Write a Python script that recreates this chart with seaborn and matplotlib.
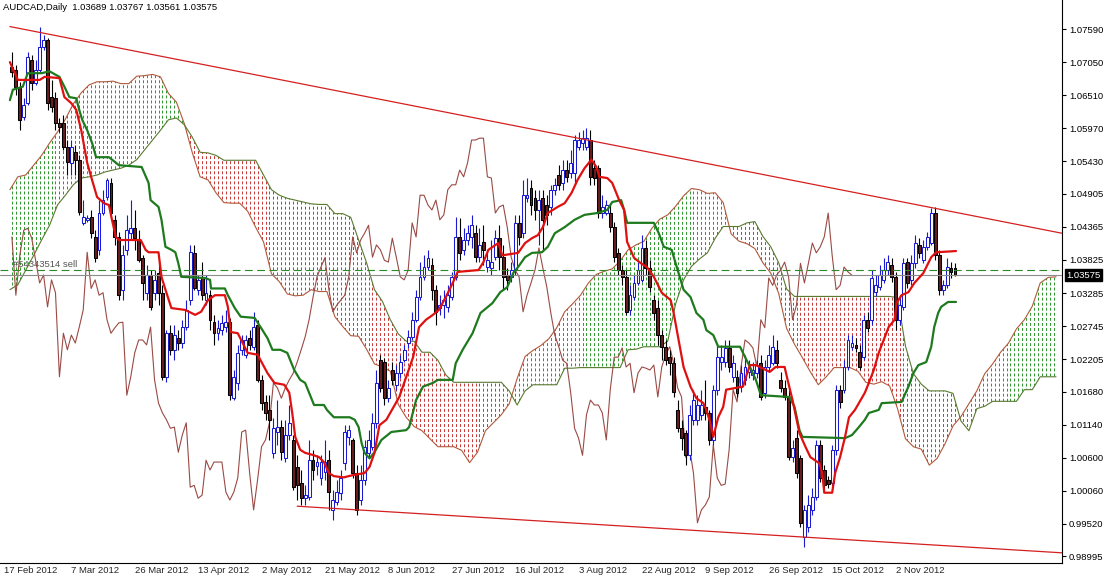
import numpy as np
import pandas as pd
import matplotlib
matplotlib.use("Agg")
import matplotlib.pyplot as plt
import matplotlib.transforms as mtransforms
from matplotlib.path import Path
from matplotlib.patches import PathPatch
import seaborn as sns

# AUDCAD daily bars (one per trading day incl. sunday bars)
opens = [
    1.0697, 1.0692, 1.0665, 1.0616, 1.0638, 1.0709, 1.0671, 1.0692, 1.0730, 1.0741,
    1.0648, 1.0646, 1.0606, 1.0606, 1.0567, 1.0541, 1.0558, 1.0546, 1.0443, 1.0448,
    1.0453, 1.0420, 1.0399, 1.0459, 1.0485, 1.0508, 1.0448, 1.0420, 1.0334, 1.0399,
    1.0426, 1.0434, 1.0415, 1.0386, 1.0329, 1.0358, 1.0329, 1.0361, 1.0329, 1.0192,
    1.0263, 1.0236, 1.0255, 1.0247, 1.0273, 1.0317, 1.0394, 1.0334, 1.0355, 1.0317,
    1.0325, 1.0281, 1.0263, 1.0268, 1.0273, 1.0281, 1.0157, 1.0182, 1.0236, 1.0228,
    1.0255, 1.0241, 1.0277, 1.0187, 1.0151, 1.0138, 1.0068, 1.0102, 1.0110, 1.0059,
    1.0097, 1.0089, 1.0045, 1.0019, 0.9994, 0.9996, 1.0056, 1.0047, 1.0027, 1.0037,
    1.0056, 0.9975, 0.9988, 1.0003, 1.0051, 1.0094, 1.0089, 1.0035, 0.9991, 1.0024,
    1.0068, 1.0078, 1.0117, 1.0219, 1.0216, 1.0157, 1.0203, 1.0179, 1.0198, 1.0219,
    1.0247, 1.0257, 1.0285, 1.0322, 1.0355, 1.0371, 1.0374, 1.0334, 1.0304, 1.0309,
    1.0306, 1.0322, 1.0355, 1.0420, 1.0399, 1.0415, 1.0420, 1.0426, 1.0387, 1.0412,
    1.0371, 1.0369, 1.0387, 1.0418, 1.0387, 1.0358, 1.0355, 1.0366, 1.0443, 1.0426,
    1.0483, 1.0500, 1.0483, 1.0464, 1.0483, 1.0472, 1.0469, 1.0497, 1.0521, 1.0508,
    1.0529, 1.0524, 1.0524, 1.0567, 1.0573, 1.0567, 1.0578, 1.0532, 1.0532, 1.0459,
    1.0459, 1.0459, 1.0436, 1.0394, 1.0366, 1.0355, 1.0301, 1.0322, 1.0345, 1.0350,
    1.0402, 1.0369, 1.0317, 1.0304, 1.0260, 1.0241, 1.0224, 1.0214, 1.0138, 1.0108,
    1.0100, 1.0064, 1.0122, 1.0122, 1.0130, 1.0143, 1.0133, 1.0089, 1.0171, 1.0216,
    1.0216, 1.0239, 1.0192, 1.0192, 1.0176, 1.0187, 1.0200, 1.0195, 1.0198, 1.0214,
    1.0166, 1.0208, 1.0214, 1.0236, 1.0187, 1.0174, 1.0159, 1.0061, 1.0092, 1.0059,
    0.9931, 0.9947, 0.9975, 0.9996, 1.0081, 1.0040, 1.0024, 1.0019, 1.0073, 1.0171,
    1.0171, 1.0208, 1.0241, 1.0244, 1.0233, 1.0224, 1.0285, 1.0285, 1.0330, 1.0338,
    1.0350, 1.0366, 1.0374, 1.0355, 1.0285, 1.0306, 1.0379, 1.0350, 1.0377, 1.0407,
    1.0382, 1.0404, 1.0410, 1.0459, 1.0390, 1.0334, 1.0341, 1.0369, 1.03689,
]
highs = [
    1.0722, 1.0700, 1.0673, 1.0646, 1.0722, 1.0717, 1.0709, 1.0762, 1.0749, 1.0744,
    1.0676, 1.0656, 1.0614, 1.0619, 1.0578, 1.0578, 1.0570, 1.0553, 1.0480, 1.0456,
    1.0464, 1.0431, 1.0480, 1.0497, 1.0516, 1.0516, 1.0456, 1.0428, 1.0407, 1.0456,
    1.0480, 1.0464, 1.0431, 1.0390, 1.0374, 1.0366, 1.0366, 1.0382, 1.0341, 1.0268,
    1.0277, 1.0277, 1.0268, 1.0285, 1.0317, 1.0407, 1.0407, 1.0358, 1.0379, 1.0358,
    1.0334, 1.0293, 1.0285, 1.0293, 1.0301, 1.0288, 1.0203, 1.0244, 1.0260, 1.0260,
    1.0268, 1.0298, 1.0285, 1.0195, 1.0162, 1.0162, 1.0125, 1.0154, 1.0122, 1.0122,
    1.0146, 1.0097, 1.0064, 1.0040, 1.0015, 1.0089, 1.0073, 1.0064, 1.0064, 1.0089,
    1.0073, 1.0008, 1.0024, 1.0040, 1.0113, 1.0113, 1.0092, 1.0048, 1.0048, 1.0089,
    1.0105, 1.0133, 1.0203, 1.0228, 1.0223, 1.0187, 1.0216, 1.0211, 1.0228, 1.0244,
    1.0268, 1.0298, 1.0334, 1.0379, 1.0390, 1.0399, 1.0386, 1.0341, 1.0325, 1.0334,
    1.0341, 1.0363, 1.0453, 1.0451, 1.0434, 1.0439, 1.0456, 1.0439, 1.0434, 1.0439,
    1.0399, 1.0415, 1.0431, 1.0439, 1.0407, 1.0369, 1.0379, 1.0456, 1.0456, 1.0513,
    1.0516, 1.0513, 1.0497, 1.0497, 1.0497, 1.0488, 1.0505, 1.0516, 1.0537, 1.0546,
    1.0546, 1.0562, 1.0586, 1.0591, 1.0594, 1.0598, 1.0594, 1.0546, 1.0537, 1.0488,
    1.0480, 1.0472, 1.0444, 1.0402, 1.0374, 1.0366, 1.0341, 1.0358, 1.0379, 1.0423,
    1.0415, 1.0382, 1.0325, 1.0317, 1.0268, 1.0252, 1.0236, 1.0224, 1.0154, 1.0122,
    1.0105, 1.0146, 1.0171, 1.0162, 1.0171, 1.0187, 1.0138, 1.0179, 1.0244, 1.0244,
    1.0252, 1.0252, 1.0228, 1.0203, 1.0211, 1.0228, 1.0219, 1.0216, 1.0219, 1.0228,
    1.0219, 1.0244, 1.0260, 1.0252, 1.0200, 1.0187, 1.0171, 1.0089, 1.0105, 1.0064,
    0.9983, 0.9999, 1.0011, 1.0089, 1.0089, 1.0048, 1.0030, 1.0081, 1.0179, 1.0179,
    1.0219, 1.0260, 1.0260, 1.0255, 1.0244, 1.0293, 1.0298, 1.0366, 1.0358, 1.0374,
    1.0386, 1.0390, 1.0386, 1.0363, 1.0325, 1.0386, 1.0386, 1.0390, 1.0423, 1.0418,
    1.0415, 1.0428, 1.0467, 1.0469, 1.0399, 1.0350, 1.0386, 1.0379, 1.03767,
]
lows = [
    1.0681, 1.0651, 1.0594, 1.0611, 1.0635, 1.0660, 1.0668, 1.0689, 1.0725, 1.0627,
    1.0624, 1.0594, 1.0591, 1.0562, 1.0521, 1.0521, 1.0521, 1.0456, 1.0439, 1.0444,
    1.0418, 1.0379, 1.0390, 1.0456, 1.0480, 1.0456, 1.0407, 1.0317, 1.0317, 1.0390,
    1.0415, 1.0399, 1.0379, 1.0317, 1.0317, 1.0301, 1.0317, 1.0309, 1.0187, 1.0184,
    1.0228, 1.0219, 1.0236, 1.0239, 1.0268, 1.0309, 1.0334, 1.0325, 1.0317, 1.0309,
    1.0268, 1.0244, 1.0252, 1.0260, 1.0265, 1.0154, 1.0154, 1.0171, 1.0228, 1.0223,
    1.0236, 1.0236, 1.0184, 1.0138, 1.0122, 1.0089, 1.0059, 1.0081, 1.0056, 1.0053,
    1.0089, 1.0008, 0.9991, 0.9983, 0.9983, 0.9991, 1.0024, 1.0032, 1.0015, 1.0024,
    0.9975, 0.9959, 0.9983, 0.9991, 1.0040, 1.0081, 1.0027, 0.9967, 0.9983, 1.0015,
    1.0059, 1.0073, 1.0108, 1.0167, 1.0146, 1.0151, 1.0179, 1.0171, 1.0190, 1.0216,
    1.0239, 1.0252, 1.0281, 1.0317, 1.0350, 1.0366, 1.0317, 1.0277, 1.0293, 1.0288,
    1.0298, 1.0317, 1.0350, 1.0382, 1.0390, 1.0407, 1.0402, 1.0379, 1.0379, 1.0374,
    1.0363, 1.0358, 1.0382, 1.0366, 1.0334, 1.0334, 1.0346, 1.0358, 1.0407, 1.0418,
    1.0477, 1.0456, 1.0448, 1.0407, 1.0399, 1.0439, 1.0456, 1.0488, 1.0497, 1.0497,
    1.0510, 1.0516, 1.0505, 1.0562, 1.0562, 1.0562, 1.0505, 1.0505, 1.0451, 1.0451,
    1.0456, 1.0428, 1.0379, 1.0358, 1.0341, 1.0293, 1.0293, 1.0317, 1.0341, 1.0346,
    1.0358, 1.0330, 1.0285, 1.0244, 1.0219, 1.0211, 1.0195, 1.0159, 1.0102, 1.0073,
    1.0048, 1.0056, 1.0113, 1.0113, 1.0122, 1.0122, 1.0081, 1.0081, 1.0162, 1.0203,
    1.0208, 1.0200, 1.0184, 1.0159, 1.0167, 1.0179, 1.0190, 1.0187, 1.0190, 1.0154,
    1.0157, 1.0200, 1.0211, 1.0206, 1.0167, 1.0154, 1.0056, 1.0053, 1.0027, 0.9947,
    0.9915, 0.9939, 0.9967, 0.9991, 1.0020, 1.0008, 1.0011, 1.0014, 1.0064, 1.0141,
    1.0166, 1.0203, 1.0236, 1.0233, 1.0203, 1.0219, 1.0265, 1.0277, 1.0324, 1.0334,
    1.0345, 1.0358, 1.0346, 1.0268, 1.0277, 1.0301, 1.0336, 1.0341, 1.0369, 1.0386,
    1.0377, 1.0399, 1.0407, 1.0382, 1.0325, 1.0325, 1.0336, 1.0353, 1.03561,
]
closes = [
    1.0689, 1.0665, 1.0611, 1.0635, 1.0713, 1.0671, 1.0692, 1.0730, 1.0741, 1.0638,
    1.0632, 1.0606, 1.0599, 1.0567, 1.0542, 1.0567, 1.0546, 1.0461, 1.0453, 1.0451,
    1.0426, 1.0386, 1.0459, 1.0480, 1.0513, 1.0459, 1.0420, 1.0325, 1.0390, 1.0431,
    1.0434, 1.0418, 1.0382, 1.0345, 1.0358, 1.0306, 1.0350, 1.0329, 1.0192, 1.0263,
    1.0236, 1.0260, 1.0247, 1.0273, 1.0301, 1.0395, 1.0336, 1.0350, 1.0325, 1.0329,
    1.0285, 1.0263, 1.0272, 1.0280, 1.0281, 1.0162, 1.0192, 1.0231, 1.0252, 1.0252,
    1.0244, 1.0273, 1.0187, 1.0149, 1.0133, 1.0122, 1.0108, 1.0110, 1.0069, 1.0097,
    1.0117, 1.0012, 1.0015, 0.9994, 0.9999, 1.0056, 1.0040, 1.0053, 1.0053, 1.0053,
    1.0004, 0.9991, 1.0004, 1.0027, 1.0102, 1.0105, 1.0035, 0.9975, 1.0024, 1.0078,
    1.0089, 1.0117, 1.0182, 1.0174, 1.0157, 1.0174, 1.0187, 1.0198, 1.0216, 1.0236,
    1.0257, 1.0285, 1.0322, 1.0355, 1.0371, 1.0386, 1.0334, 1.0298, 1.0309, 1.0317,
    1.0325, 1.0355, 1.0420, 1.0394, 1.0415, 1.0426, 1.0439, 1.0387, 1.0407, 1.0399,
    1.0382, 1.0379, 1.0418, 1.0387, 1.0355, 1.0350, 1.0366, 1.0443, 1.0420, 1.0488,
    1.0488, 1.0472, 1.0464, 1.0480, 1.0448, 1.0456, 1.0497, 1.0505, 1.0505, 1.0529,
    1.0518, 1.0541, 1.0578, 1.0578, 1.0581, 1.0581, 1.0518, 1.0516, 1.0459, 1.0469,
    1.0472, 1.0436, 1.0387, 1.0366, 1.0355, 1.0298, 1.0325, 1.0345, 1.0366, 1.0402,
    1.0369, 1.0338, 1.0296, 1.0260, 1.0241, 1.0219, 1.0214, 1.0167, 1.0108, 1.0092,
    1.0064, 1.0130, 1.0154, 1.0146, 1.0146, 1.0133, 1.0089, 1.0171, 1.0224, 1.0224,
    1.0239, 1.0208, 1.0214, 1.0166, 1.0198, 1.0208, 1.0206, 1.0203, 1.0211, 1.0159,
    1.0208, 1.0228, 1.0241, 1.0214, 1.0174, 1.0159, 1.0061, 1.0076, 1.0035, 0.9954,
    0.9975, 0.9983, 0.9996, 1.0081, 1.0027, 1.0015, 1.0017, 1.0073, 1.0171, 1.0151,
    1.0208, 1.0252, 1.0247, 1.0239, 1.0208, 1.0285, 1.0272, 1.0353, 1.0341, 1.0358,
    1.0366, 1.0379, 1.0355, 1.0285, 1.0309, 1.0377, 1.0345, 1.0377, 1.0410, 1.0394,
    1.0404, 1.0420, 1.0459, 1.0390, 1.0334, 1.0341, 1.0371, 1.0363, 1.03575,
]

# Tenkan-sen (red) and Kijun-sen (green): bar index / price of the line vertices
tenkan_bar = [
    -0.5, 1.5, 7, 8.25, 12, 13.25, 15, 16.25, 17.5, 19, 20, 21.5, 23.25, 24.5, 25.25,
    26.25, 27, 32.5, 33.75, 34.5, 37, 37.75, 38.75, 40.25, 43.75, 46.25, 47.75, 49.5,
    51.25, 53.75, 54.5, 55.25, 57, 58.25, 59.5, 62, 64.5, 66.25, 68.75, 70, 70.75, 71.5,
    72.75, 74, 76.25, 77.5, 78.75, 80, 81.25, 83.75, 86.25, 89, 90.25, 91.5, 92.75, 94.5,
    97.75, 101.25, 102.75, 104.5, 106.25, 107.75, 109.5, 111.25, 112.5, 117.75, 119,
    120.25, 122.75, 123.75, 127.75, 129.5, 131.25, 132.75, 134, 135.25, 137.75, 139.5,
    141.25, 142.75, 144.5, 146.25, 147.5, 148.25, 150.25, 151.5, 153.25, 154.5, 155.25,
    157, 158.75, 160.25, 162, 164, 166.25, 167, 168.25, 169.5, 171.25, 172.75, 174.5,
    175.25, 176.25, 177, 178.25, 179.5, 180.25, 184.5, 185.25, 186.25, 187.75, 191.25,
    192.75, 195, 195.75, 197, 198.75, 200.25, 201.5, 203.75, 204.5, 205, 207, 207.75,
    209, 210.25, 211.25, 212.75, 215.25, 216.25, 217.5, 218.75, 221.25, 222.75, 223.25,
    224.5, 226.25, 227.75, 230, 232, 233.25, 238.25,
]
tenkan = [
    1.0705, 1.0676, 1.0676, 1.0681, 1.0679, 1.0648, 1.0638, 1.0627, 1.0594, 1.0541,
    1.0518, 1.0485, 1.0475, 1.0472, 1.0448, 1.0420, 1.0415, 1.0415, 1.0399, 1.0395,
    1.0395, 1.0355, 1.0334, 1.0304, 1.0301, 1.0293, 1.0298, 1.0317, 1.0325, 1.0325,
    1.0306, 1.0265, 1.0263, 1.0247, 1.0231, 1.0228, 1.0198, 1.0182, 1.0179, 1.0166,
    1.0133, 1.0094, 1.0073, 1.0068, 1.0064, 1.0061, 1.0053, 1.0035, 1.0030, 1.0028,
    1.0032, 1.0035, 1.0045, 1.0068, 1.0113, 1.0122, 1.0159, 1.0224, 1.0273, 1.0285,
    1.0293, 1.0301, 1.0322, 1.0345, 1.0363, 1.0366, 1.0379, 1.0399, 1.0410, 1.0390,
    1.0394, 1.0410, 1.0418, 1.0423, 1.0436, 1.0459, 1.0469, 1.0475, 1.0492, 1.0513,
    1.0532, 1.0546, 1.0534, 1.0518, 1.0516, 1.0508, 1.0480, 1.0464, 1.0412, 1.0386,
    1.0377, 1.0371, 1.0355, 1.0329, 1.0317, 1.0296, 1.0252, 1.0208, 1.0176, 1.0157,
    1.0149, 1.0138, 1.0117, 1.0094, 1.0126, 1.0143, 1.0171, 1.0176, 1.0192, 1.0211,
    1.0211, 1.0200, 1.0208, 1.0208, 1.0187, 1.0154, 1.0100, 1.0078, 1.0061, 1.0051,
    1.0035, 1.0003, 1.0003, 1.0035, 1.0061, 1.0094, 1.0126, 1.0138, 1.0166, 1.0182,
    1.0203, 1.0231, 1.0273, 1.0285, 1.0312, 1.0325, 1.0330, 1.0345, 1.0361, 1.0387,
    1.0395, 1.0397,
]
kijun_bar = [
    -0.5, 0.25, 2.75, 4, 7.5, 9.5, 12, 13.25, 14.5, 16.25, 17, 17.75, 19, 20.25, 21.25,
    24.5, 26.25, 27, 32.75, 34.5, 35, 37, 37.75, 38.75, 40.25, 41.25, 42, 42.75, 48.75,
    50, 50.25, 53.75, 54.5, 56.25, 57.75, 61.25, 62.75, 64.5, 65.75, 67.75, 69.5, 71.25,
    72.75, 74, 75, 76.25, 78.75, 79.5, 81.25, 85.25, 86.5, 87.5, 88.25, 89, 90.25, 91.5,
    93.25, 95.75, 99.5, 100.25, 102, 103.75, 106.25, 107.5, 111.25, 112, 113.75, 116.25,
    118.25, 121.25, 123.25, 125, 126.5, 127.75, 129.5, 131.25, 133.75, 135.25, 137,
    139.5, 142, 144.5, 147.75, 150.25, 151.5, 153.75, 154.5, 155.25, 162, 163.25, 164.5,
    166.5, 167.5, 169.5, 171.25, 172.75, 174.5, 175.25, 177, 178.25, 183.75, 184.5,
    186.25, 187.75, 189, 196.25, 197.5, 198.75, 199.5, 210.25, 212, 213.75, 215.25,
    216.25, 218.75, 219.5, 224.5, 226.25, 227.5, 228.75, 230.75, 232, 232.75, 233.75,
    234.5, 236.25, 238.25,
]
kijun = [
    1.0643, 1.0660, 1.0665, 1.0687, 1.0687, 1.0690, 1.0681, 1.0665, 1.0648, 1.0646,
    1.0627, 1.0611, 1.0594, 1.0573, 1.0550, 1.0550, 1.0541, 1.0537, 1.0534, 1.0508,
    1.0480, 1.0469, 1.0448, 1.0404, 1.0399, 1.0395, 1.0377, 1.0355, 1.0353, 1.0350,
    1.0336, 1.0336, 1.0325, 1.0304, 1.0290, 1.0288, 1.0273, 1.0255, 1.0236, 1.0236,
    1.0231, 1.0203, 1.0187, 1.0182, 1.0166, 1.0146, 1.0146, 1.0138, 1.0126, 1.0126,
    1.0122, 1.0110, 1.0084, 1.0068, 1.0059, 1.0069, 1.0089, 1.0102, 1.0105, 1.0110,
    1.0154, 1.0176, 1.0182, 1.0187, 1.0187, 1.0214, 1.0236, 1.0263, 1.0296, 1.0312,
    1.0330, 1.0338, 1.0361, 1.0371, 1.0387, 1.0394, 1.0395, 1.0404, 1.0426, 1.0436,
    1.0448, 1.0456, 1.0459, 1.0464, 1.0477, 1.0480, 1.0464, 1.0443, 1.0443, 1.0426,
    1.0404, 1.0399, 1.0377, 1.0334, 1.0322, 1.0296, 1.0285, 1.0268, 1.0260, 1.0241,
    1.0241, 1.0231, 1.0208, 1.0187, 1.0162, 1.0159, 1.0143, 1.0105, 1.0094, 1.0092,
    1.0097, 1.0110, 1.0122, 1.0133, 1.0138, 1.0149, 1.0151, 1.0176, 1.0198, 1.0211,
    1.0216, 1.0241, 1.0273, 1.0296, 1.0306, 1.0314, 1.0314,
]

# Senkou span A / B, sampled every second bar starting half a bar left of the first candle
span_a = [
    1.0497, 1.0518, 1.0521, 1.0537, 1.0553, 1.0573, 1.0591, 1.0612, 1.0637, 1.0655,
    1.0668, 1.0673, 1.0673, 1.0674, 1.0670, 1.0670, 1.0682, 1.0683, 1.0685, 1.0681,
    1.0654, 1.0640, 1.0605, 1.0558, 1.0518, 1.0513, 1.0492, 1.0476, 1.0475, 1.0475,
    1.0462, 1.0436, 1.0412, 1.0360, 1.0347, 1.0327, 1.0324, 1.0325, 1.0334, 1.0331,
    1.0331, 1.0290, 1.0274, 1.0259, 1.0258, 1.0237, 1.0213, 1.0208, 1.0201, 1.0147,
    1.0126, 1.0111, 1.0104, 1.0091, 1.0078, 1.0078, 1.0078, 1.0072, 1.0052, 1.0069,
    1.0104, 1.0117, 1.0130, 1.0148, 1.0189, 1.0225, 1.0235, 1.0243, 1.0254, 1.0272,
    1.0298, 1.0311, 1.0325, 1.0345, 1.0359, 1.0364, 1.0368, 1.0381, 1.0399, 1.0407,
    1.0413, 1.0434, 1.0449, 1.0456, 1.0470, 1.0487, 1.0499, 1.0497, 1.0491, 1.0492,
    1.0476, 1.0425, 1.0413, 1.0409, 1.0401, 1.0378, 1.0361, 1.0328, 1.0271, 1.0245,
    1.0223, 1.0200, 1.0179, 1.0192, 1.0207, 1.0207, 1.0207, 1.0201, 1.0183, 1.0180,
    1.0184, 1.0177, 1.0140, 1.0091, 1.0078, 1.0074, 1.0048, 1.0059, 1.0083, 1.0112,
    1.0127, 1.0148, 1.0169, 1.0197, 1.0213, 1.0232, 1.0247, 1.0270, 1.0285, 1.0307,
    1.0345, 1.0354, 1.0355,
]
span_b = [
    1.0334, 1.0342, 1.0366, 1.0390, 1.0415, 1.0439, 1.0472, 1.0488, 1.0505, 1.0516,
    1.0518, 1.0521, 1.0526, 1.0529, 1.0532, 1.0537, 1.0546, 1.0562, 1.0578, 1.0594,
    1.0611, 1.0614, 1.0603, 1.0583, 1.0558, 1.0557, 1.0553, 1.0545, 1.0545, 1.0545,
    1.0545, 1.0545, 1.0521, 1.0497, 1.0488, 1.0483, 1.0480, 1.0477, 1.0474, 1.0473,
    1.0473, 1.0458, 1.0458, 1.0452, 1.0415, 1.0378, 1.0334, 1.0315, 1.0285, 1.0262,
    1.0250, 1.0250, 1.0232, 1.0232, 1.0219, 1.0195, 1.0183, 1.0183, 1.0183, 1.0183,
    1.0183, 1.0183, 1.0183, 1.0169, 1.0146, 1.0169, 1.0179, 1.0179, 1.0179, 1.0179,
    1.0206, 1.0206, 1.0207, 1.0207, 1.0207, 1.0207, 1.0207, 1.0207, 1.0236, 1.0237,
    1.0241, 1.0241, 1.0241, 1.0250, 1.0311, 1.0350, 1.0372, 1.0384, 1.0394, 1.0418,
    1.0437, 1.0437, 1.0437, 1.0443, 1.0445, 1.0421, 1.0404, 1.0378, 1.0335, 1.0323,
    1.0323, 1.0323, 1.0323, 1.0323, 1.0323, 1.0323, 1.0323, 1.0323, 1.0323, 1.0323,
    1.0323, 1.0323, 1.0321, 1.0242, 1.0197, 1.0180, 1.0169, 1.0169, 1.0169, 1.0165,
    1.0120, 1.0104, 1.0140, 1.0144, 1.0152, 1.0152, 1.0152, 1.0152, 1.0171, 1.0171,
    1.0192, 1.0192, 1.0192,
]
chikou_shift = 26

# trend lines drawn on the chart (bar index, price)
upper_trend_bar = [-0.5, 265]
upper_trend = [1.0763, 1.0426]
lower_trend_bar = [72, 265]
lower_trend = [0.9981, 0.9905]

bid_price = 1.03575
order_price = 1.0366
order_label = "#54343514 sell"
title = "AUDCAD,Daily  1.03689 1.03767 1.03561 1.03575"

date_labels = ["17 Feb 2012", "7 Mar 2012", "26 Mar 2012", "13 Apr 2012", "2 May 2012",
               "21 May 2012", "8 Jun 2012", "27 Jun 2012", "16 Jul 2012", "3 Aug 2012",
               "22 Aug 2012", "9 Sep 2012", "26 Sep 2012", "15 Oct 2012", "2 Nov 2012"]
date_bars = [-3, 14, 30, 46, 62, 78, 94, 110, 126, 142, 158, 174, 190, 206, 222]
price_ticks = [1.07590, 1.07050, 1.06510, 1.05970, 1.05430, 1.04905, 1.04365, 1.03825,
               1.03285, 1.02745, 1.02205, 1.01680, 1.01140, 1.00600, 1.00060, 0.99520, 0.98995]

# ---------------------------------------------------------------------------
sns.set_style("white")
plt.rcParams["font.family"] = ["Liberation Sans", "DejaVu Sans"]
fs = 6.8

candles = pd.DataFrame({"open": opens, "high": highs, "low": lows, "close": closes})
candles["bar"] = np.arange(len(candles))
cloud = pd.DataFrame({"a": span_a, "b": span_b})
cloud["bar"] = np.arange(len(cloud)) * 2 - 0.5
tk = pd.DataFrame({"bar": tenkan_bar, "price": tenkan})
kj = pd.DataFrame({"bar": kijun_bar, "price": kijun})

fig = plt.figure(figsize=(11.05, 5.79), dpi=100)
ax = fig.add_axes([0, 16 / 579, 1062 / 1105, 563 / 579])
y_lo, y_hi = 0.98884, 1.08063
ax.set_xlim(-0.5, 265)
ax.set_ylim(y_lo, y_hi)

# kumo: dotted vertical strokes on every bar, clipped to the cloud areas
up = ax.fill_between(cloud.bar, cloud.a, cloud.b, where=cloud.a >= cloud.b,
                     interpolate=True, facecolor="none", edgecolor="none")
dn = ax.fill_between(cloud.bar, cloud.a, cloud.b, where=cloud.a < cloud.b,
                     interpolate=True, facecolor="none", edgecolor="none")
dot_bars = np.arange(0, 265)
for poly, colour in ((up, "#2a962a"), (dn, "#c83636")):
    paths = poly.get_paths()
    if len(paths) == 0:
        continue
    clip = PathPatch(Path.make_compound_path(*paths), transform=ax.transData,
                     facecolor="none", edgecolor="none")
    ax.add_patch(clip)
    dots = ax.vlines(dot_bars, y_lo, y_hi, colors=colour, linewidth=0.7,
                     linestyles=(0, (3, 2.2)), zorder=1)
    dots.set_clip_path(clip)

sns.lineplot(data=cloud, x="bar", y="a", color="#b05a3c", lw=0.8, ax=ax,
             estimator=None, sort=False, legend=False, zorder=2)
sns.lineplot(data=cloud, x="bar", y="b", color="#5a7a30", lw=0.8, ax=ax,
             estimator=None, sort=False, legend=False, zorder=2)

# chikou span = close shifted back
chk = candles.iloc[chikou_shift:]
sns.lineplot(x=chk.bar - chikou_shift, y=chk.close, color="#9a4a45", lw=0.8, ax=ax,
             estimator=None, sort=False, legend=False, zorder=2)

# candles
bull = candles[candles.close >= candles.open]
bear = candles[candles.close < candles.open]
ax.vlines(bull.bar, bull.low, bull.high, color="#1a1ad0", lw=0.8, zorder=3)
ax.vlines(bear.bar, bear.low, bear.high, color="black", lw=0.8, zorder=3)
ax.bar(bull.bar, bull.close - bull.open, bottom=bull.open, width=0.72,
       facecolor="white", edgecolor="#1a1ad0", lw=0.75, zorder=4)
ax.bar(bear.bar, bear.open - bear.close, bottom=bear.close, width=0.72,
       facecolor="#6a1e1e", edgecolor="black", lw=0.75, zorder=4)

# tenkan / kijun
sns.lineplot(data=kj, x="bar", y="price", color="#1e7a1e", lw=1.6, ax=ax,
             estimator=None, sort=False, legend=False, zorder=6)
sns.lineplot(data=tk, x="bar", y="price", color="#e01010", lw=1.6, ax=ax,
             estimator=None, sort=False, legend=False, zorder=7)

# trend lines, bid and order lines
ax.plot(upper_trend_bar, upper_trend, color="#d42020", lw=0.9, zorder=5)
ax.plot(lower_trend_bar, lower_trend, color="#d42020", lw=0.9, zorder=5)
ax.axhline(bid_price, color="#8c8c8c", lw=0.8, zorder=5)
ax.axhline(order_price, color="#2a8a2a", lw=0.8, dashes=(7, 4), zorder=5)
ax.text(0.3, order_price + 0.0002, order_label, fontsize=fs, color="#555555",
        ha="left", va="bottom", zorder=8)

# axes styling
for s in ("left", "top"):
    ax.spines[s].set_visible(False)
for s in ("right", "bottom"):
    ax.spines[s].set_color("black")
    ax.spines[s].set_linewidth(0.8)
ax.set_xlabel("")
ax.set_ylabel("")
ax.yaxis.tick_right()
ax.set_yticks(price_ticks)
ax.set_yticklabels([f"{v:.5f}" for v in price_ticks])
ax.tick_params(axis="y", direction="out", length=3, width=0.8, labelsize=fs, pad=2,
               colors="black")
ax.set_xticks(date_bars)
ax.set_xticklabels([])
ax.tick_params(axis="x", direction="out", length=3, width=0.8)

xt = mtransforms.blended_transform_factory(ax.transData, ax.transAxes)
for b, lab in zip(date_bars, date_labels):
    ax.text(b + 1.0, -0.006, lab, transform=xt, ha="left", va="top", fontsize=fs,
            clip_on=False)

yt = mtransforms.blended_transform_factory(ax.transAxes, ax.transData)
ax.text(1.004, bid_price, "1.03575", transform=yt, ha="left", va="center", fontsize=fs,
        color="white", clip_on=False, zorder=10,
        bbox=dict(facecolor="black", edgecolor="black", pad=1.2))

fig.text(3 / 1105, 1 - 3 / 579, title, ha="left", va="top", fontsize=fs, color="black")

fig.savefig("out.png", dpi=100, facecolor="white")
